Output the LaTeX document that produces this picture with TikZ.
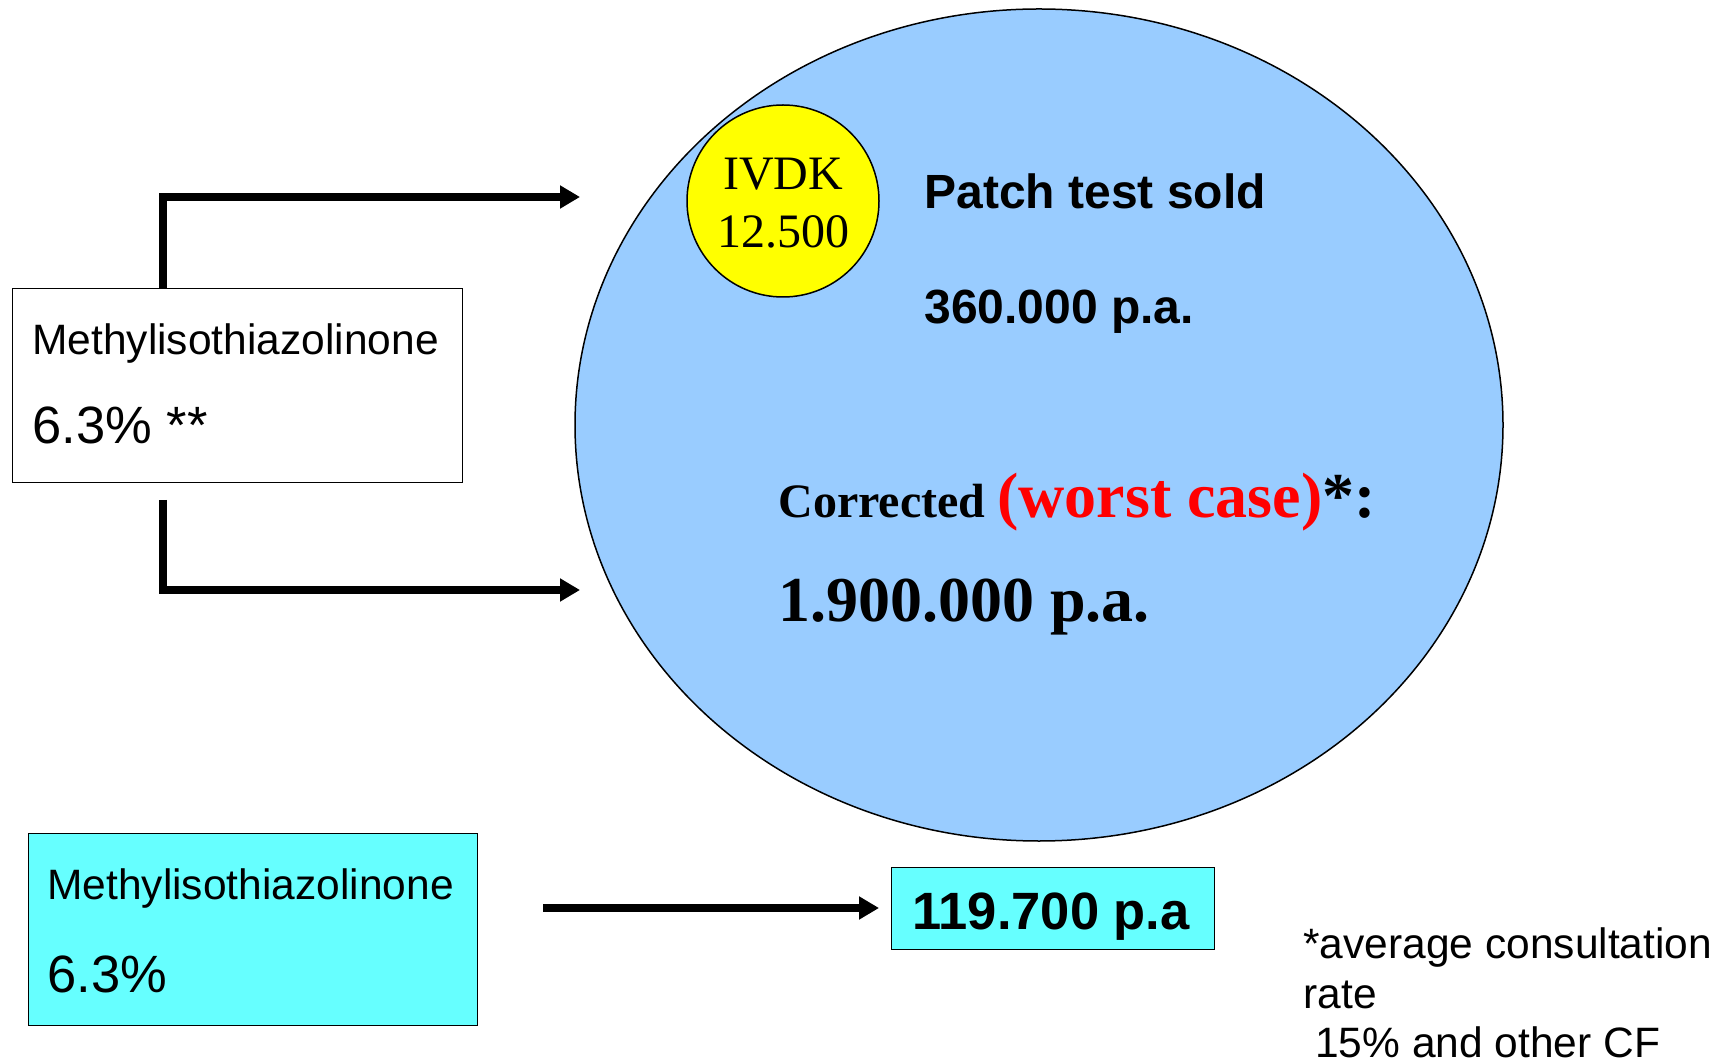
\documentclass[tikz,border=0pt]{standalone}
\usepackage{fontspec}
\setmainfont{Liberation Serif}
\newfontfamily\arial{Liberation Sans}
\usetikzlibrary{arrows.meta,calc,shapes.geometric}
\definecolor{ellblue}{HTML}{99CCFF}
\definecolor{boxcyan}{HTML}{66FFFF}
\definecolor{ylw}{HTML}{FFFF00}
\definecolor{redtxt}{HTML}{FF0000}
\tikzset{
  txt/.style={inner sep=0pt, anchor=base west},
  sans/.style={font=\arial\fontsize{#1}{#1}\selectfont},
  sansb/.style={font=\arial\bfseries\fontsize{#1}{#1}\selectfont},
  conn/.style={line width=4pt, line join=miter, -{Triangle[length=10pt,width=11pt]}},
  plainbox/.style={draw=black, line width=0.6pt, inner sep=0pt, anchor=north west},
}
\begin{document}
\begin{tikzpicture}[x=0.5pt,y=-0.5pt]
\useasboundingbox (0,0) rectangle (1729,1063);
% big ellipse
\node[draw=black, line width=0.75pt, fill=ellblue, ellipse, minimum width=464pt, minimum height=416pt, inner sep=0pt] (ell) at (1039,425) {};
% yellow circle
\node[draw=black, line width=0.75pt, fill=ylw, circle, minimum size=96pt, inner sep=0pt] (ivdk) at (783,201) {};
\node[txt, anchor=base, font=\fontsize{24}{28.8}\selectfont] (ivdk1) at (783,190) {IVDK};
\node[txt, anchor=base, font=\fontsize{24}{28.8}\selectfont] (ivdk2) at (783,248) {12.500};
% patch test
\node[txt, sansb=24] (patch) at (924,209) {Patch test sold};
\node[txt, sansb=24] (p360) at (924,324) {360.000 p.a.};
\node[txt, font=\bfseries] (corr) at (778,518) {\fontsize{24}{28}\selectfont Corrected \fontsize{32}{36}\selectfont\textcolor{redtxt}{(worst case)}*:};
\node[txt, font=\bfseries\fontsize{32}{36}\selectfont] (p19) at (778,621) {1.900.000 p.a.};
% top-left box
\node[plainbox, fill=white, minimum width=225pt, minimum height=97pt] (mbox) at (12,288) {};
\node[txt, sans=21.25] (m1) at (32,355) {Methylisothiazolinone};
\node[txt, sans=26.25] (m2) at (32,444) {6.3\% **};
% arrows from top-left box
\coordinate (vx) at (163,0);
\coordinate (tip1) at (580,197);
\coordinate (low0) at (163,500);
\coordinate (tip2) at (580,590);
\draw[conn] (mbox.north -| vx) |- (tip1);
\draw[conn] (low0) |- (tip2);
% bottom-left cyan box
\node[plainbox, fill=boxcyan, minimum width=224.5pt, minimum height=96pt] (cbox) at (28,833) {};
\node[txt, sans=21.25] (c1) at (47,899) {Methylisothiazolinone};
\node[txt, sans=26.25] (c2) at (47,992) {6.3\%};
% result box
\node[plainbox, fill=boxcyan, minimum width=161.5pt, minimum height=41pt] (rbox) at (891,867) {};
\node[txt, anchor=base, sansb=26.25] (r1) at (1051,929) {119.700 p.a};
\coordinate (arst) at (543,908);
\draw[conn] (arst) -- ([xshift=-6pt]arst -| rbox.west);
% footnote
\node[txt, sans=21.25] (f1) at (1303,958) {*average consultation};
\node[txt, sans=21.25] (f2) at (1303,1008) {rate};
\node[txt, sans=21.25] (f3) at (1303,1057) {\ 15\% and other CF};
\end{tikzpicture}
\end{document}
